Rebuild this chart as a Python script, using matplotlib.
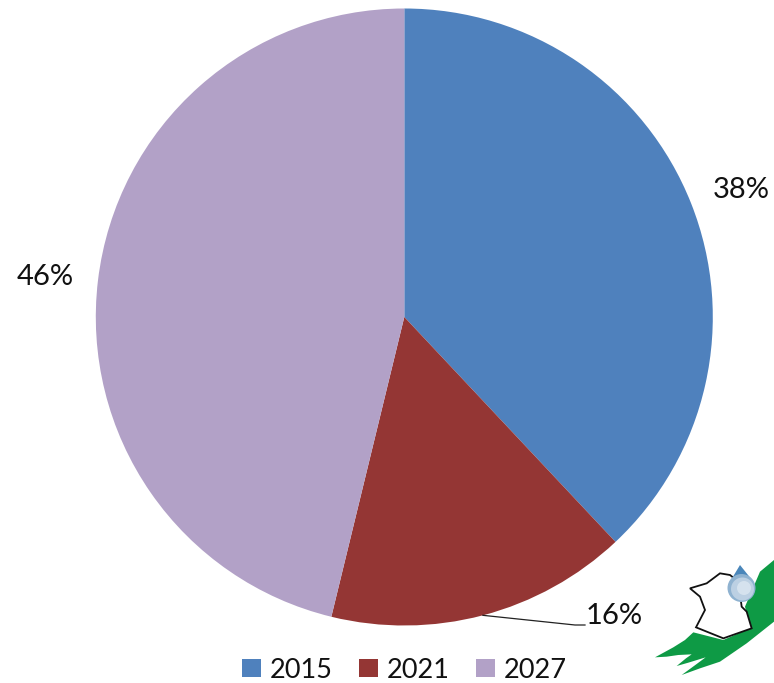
import numpy as np
import matplotlib
matplotlib.use("Agg")
import matplotlib.pyplot as plt
from matplotlib.patches import Polygon, Circle

categories = ["2015", "2021", "2027"]
shares = [38.0, 15.8, 46.2]
colors = ["#4F81BD", "#943634", "#B2A1C7"]

W, H = 774, 683
CX, CY, R = 404.3, 317.0, 308.5
plt.rcParams["font.family"] = ["Lato", "DejaVu Sans"]
FS = 21
LEG_FS = 19.5

fig = plt.figure(figsize=(W / 100, H / 100), dpi=100)
ax = fig.add_axes([(CX - R) / W, (H - CY - R) / H, 2 * R / W, 2 * R / H])
wedges, _ = ax.pie(shares, colors=colors, startangle=90, counterclock=False, radius=1.0)
ax.set_xlim(-1, 1)
ax.set_ylim(-1, 1)

def to_ax(px, py):
    return (px - CX) / R, (CY - py) / R

label_px = {"2015": (741, 190), "2027": (45, 277)}
for cat, share in zip(categories, shares):
    if cat in label_px:
        x, y = to_ax(*label_px[cat])
        ax.text(x, y, f"{share:.0f}%", fontsize=FS, ha="center", va="center",
                color="#111111", clip_on=False)

# 16% label with its leader line, which starts on the edge of the slice
theta = np.deg2rad(90 - 360 * (shares[0] + shares[1] / 2) / sum(shares))
edge = (np.cos(theta), np.sin(theta))
knee = to_ax(575, 625)
end = to_ax(585, 625)
ax.plot([edge[0], knee[0], end[0]], [edge[1], knee[1], end[1]],
        color="#222222", lw=0.9, clip_on=False)
x, y = to_ax(614, 616)
ax.text(x, y, f"{shares[1]:.0f}%", fontsize=FS, ha="center", va="center",
        color="#111111", clip_on=False)

leg = fig.legend(wedges, categories, ncol=3, loc="center",
                 bbox_to_anchor=(404.5 / W, 1 - 670 / H), frameon=False,
                 fontsize=LEG_FS, handlelength=0.68, handleheight=0.68,
                 handletextpad=0.34, columnspacing=0.98, borderpad=0,
                 labelcolor="#111111")

# Logo drawn in pixel coordinates on an overlay
ov = fig.add_axes([0, 0, 1, 1], facecolor="none")
ov.set_xlim(0, W)
ov.set_ylim(H, 0)
ov.axis("off")

def z(pts):
    return [(560 + a / 3, 540 + b / 3) for a, b in pts]

green = z([(285, 352), (340, 322), (375, 300), (400, 277), (490, 300), (570, 265),
           (555, 200), (600, 95), (642, 60), (642, 245), (560, 310), (480, 365),
           (420, 385), (365, 405), (410, 372), (437, 352), (385, 368), (350, 378),
           (378, 355), (395, 343), (355, 345), (320, 350)])
ov.add_patch(Polygon(green, closed=True, fc="#0E9A45", ec="none"))
france = z([(390, 145), (440, 130), (480, 100), (510, 105), (535, 125), (545, 200),
            (560, 215), (575, 265), (490, 295), (408, 262), (435, 210), (420, 170)])
ov.add_patch(Polygon(france, closed=True, fc="white", ec="#111111", lw=1.3))
ov.add_patch(Polygon(z([(540, 75), (510, 125), (580, 125)]), closed=True, fc="#4A86BA", ec="none"))
ov.add_patch(Circle((741.5, 588), 14, fc="#8FB2D0", ec="none"))
ov.add_patch(Circle((742.5, 589), 11.5, fc="#BCD0E3", ec="none"))
ov.add_patch(Circle((744, 588), 7, fc="#D5E2EE", ec="none"))

fig.savefig("out.png", dpi=100, facecolor="white")
